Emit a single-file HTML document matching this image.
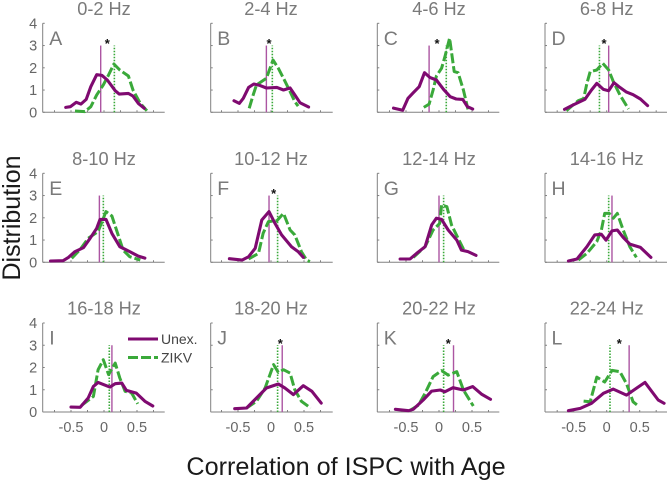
<!DOCTYPE html>
<html lang="en">
<head>
<meta charset="utf-8">
<title>Correlation of ISPC with Age</title>
<style>
html,body{margin:0;padding:0;background:#fff;width:669px;height:483px;overflow:hidden}
svg{display:block;font-family:"Liberation Sans",Arial,sans-serif;filter:blur(0.35px)}
</style>
</head>
<body>
<svg id="chart" xmlns="http://www.w3.org/2000/svg" width="669" height="483" viewBox="0 0 669 483">
  <text transform="translate(20,218) rotate(-90)" text-anchor="middle" font-size="25" fill="#1a1a1a">Distribution</text>
  <text x="346" y="475" text-anchor="middle" font-size="25.2" fill="#1a1a1a">Correlation of ISPC with Age</text>
</svg>
<script>
const bandLabels = ['0-2 Hz','2-4 Hz','4-6 Hz','6-8 Hz','8-10 Hz','10-12 Hz','12-14 Hz','14-16 Hz','16-18 Hz','18-20 Hz','20-22 Hz','22-24 Hz'];
const panelLetters = ['A','B','C','D','E','F','G','H','I','J','K','L'];
const yTickLabels = [0,1,2,3,4];
const xTickValues = [-0.75,-0.5,-0.25,0,0.25,0.5,0.75];
const xTickLabels = ['-0.5','0','0.5'];
const xLabelValues = [-0.5,0,0.5];

const unexX = [
 [-.58,-.51,-.42,-.35,-.27,-.20,-.11,-.03,.05,.17,.23,.37,.44,.52,.61],
 [-.56,-.48,-.42,-.34,-.26,-.17,-.07,.09,.19,.29,.36,.44,.57],
 [-.69,-.55,-.47,-.39,-.30,-.22,-.14,-.04,.07,.17,.26,.36,.43,.51],
 [-.64,-.51,-.33,-.23,-.15,-.05,.03,.11,.20,.30,.40,.51,.62],
 [-.81,-.62,-.54,-.44,-.31,-.21,-.11,-.06,.03,.12,.24,.39,.52,.62],
 [-.63,-.44,-.34,-.24,-.14,-.03,.06,.16,.31,.41,.49],
 [-.59,-.44,-.34,-.21,-.11,-.04,.04,.14,.27,.34,.44,.56],
 [-.58,-.45,-.30,-.18,-.08,-.01,.08,.16,.25,.35,.51,.67],
 [-.50,-.36,-.24,-.16,-.09,.09,.17,.27,.34,.49,.62,.74],
 [-.55,-.37,-.22,-.07,.11,.21,.34,.49,.62,.76],
 [-.66,-.46,-.39,-.24,-.11,.02,.09,.21,.37,.51,.65,.78],
 [-.58,-.40,-.23,-.05,.10,.30,.58,.78,.87]
];
const unexY = [
 [.22,.25,.45,.37,.58,1.15,1.69,1.66,1.45,.97,.82,.85,.73,.40,.18],
 [.52,.40,.63,1.12,1.27,1.21,1.09,1.12,1.0,1.09,.78,.43,.24],
 [.19,.09,.63,.88,1.15,1.78,1.57,1.45,1.03,.70,.60,.58,.25,.15],
 [.13,.33,.58,1.0,1.30,1.03,.97,1.33,1.12,.91,.79,.60,.30],
 [.06,.07,.22,.48,.66,1.08,1.53,1.93,1.93,1.30,.70,.48,.28,.19],
 [.16,.10,.25,.63,1.90,2.28,1.75,1.23,.70,.48,.22],
 [.15,.15,.40,.70,1.68,1.98,1.93,1.45,1.0,.55,.48,.31],
 [.06,.15,.70,1.23,1.26,1.0,1.41,1.45,1.12,.82,.67,.22],
 [.22,.21,.63,1.15,1.33,1.12,1.27,1.30,.97,.85,.48,.27],
 [.15,.18,.63,1.08,1.26,1.08,.78,1.18,.93,.40],
 [.12,.06,.12,.54,.94,.99,.91,1.09,.99,1.14,.79,.57],
 [.06,.16,.39,.84,1.03,.76,1.33,.54,.39]
];
const zikvX = [
 [-.44,-.29,-.20,-.11,-.01,.07,.15,.24,.37,.44,.55,.65],
 [-.33,-.27,-.22,-.07,.03,.11,.19,.29,.36,.41],
 [-.23,-.15,-.09,-.04,.04,.09,.16,.23,.29,.37,.44],
 [-.61,-.53,-.43,-.35,-.30,-.25,-.15,-.06,.03,.10,.20,.33],
 [-.49,-.36,-.24,-.09,.03,.12,.19,.29,.39,.55],
 [-.34,-.19,-.12,-.04,.09,.19,.29,.36,.46,.54,.59],
 [-.39,-.21,-.09,.01,.04,.12,.19,.29,.39],
 [-.43,-.30,-.15,-.08,-.03,.04,.10,.16,.25,.35,.45],
 [-.34,-.16,-.09,-.01,.07,.17,.24,.32,.42,.51],
 [-.37,-.22,-.09,.04,.11,.19,.29,.36,.46,.60],
 [-.44,-.31,-.21,-.09,.04,.14,.27,.37,.52],
 [-.35,-.25,-.15,-.03,.08,.20,.30,.40,.48]
];
const zikvY = [
 [.06,.03,.25,.78,1.23,1.68,2.17,1.90,1.63,1.0,.40,.07],
 [.18,.78,1.23,1.53,2.35,1.98,1.53,.93,.48,.28],
 [.22,.37,1.0,1.63,1.98,2.5,3.33,1.83,1.78,1.0,.13],
 [.07,.28,.52,.61,1.30,1.83,1.90,2.2,1.9,1.38,.78,.15],
 [.18,.58,1.08,1.38,2.28,2.08,1.45,.55,.25,.10],
 [.15,.40,1.3,1.83,1.87,2.2,1.45,1.23,.48,.10,.03],
 [.22,.70,1.45,1.75,2.58,2.5,1.68,1.08,.48],
 [.10,.40,.93,1.45,2.2,2.2,1.98,2.2,1.45,.70,.22],
 [.30,.70,1.90,2.35,1.68,2.2,1.53,.93,.85,.37],
 [.18,.48,1.08,2.13,1.78,1.9,1.75,1.0,.48,.18],
 [.07,.31,.84,1.59,1.86,1.66,1.81,.99,.27],
 [.49,.46,1.57,1.35,1.87,1.81,1.27,.46,.27]
];
const unexMeans = [-.05,-.07,-.15,.03,-.07,-.03,0,.08,.12,.17,.22,.34];
const zikvMeans = [.157,.02,.11,-.11,-.01,.10,.07,.03,.08,.10,.07,.05];
const meanLineTop = 3;
const starX = [.05,-.03,-.03,-.04,null,.04,null,null,null,.14,.14,.19];
const starLevel = 3.2;

const SVG_NS = 'http://www.w3.org/2000/svg';
const chart = document.getElementById('chart');
const columnLeft = [42.7,210.7,377.3,545];
const columnZero = [104,271,439,606.7];
const rowBase = [112.3,262.3,412];
const axisWidth = 122;
const pxPerX = 66;
const pxPerY = 22.25;
const TITLE_GRAY = '#7a7a7a';
const AXIS_GRAY = '#808080';
const TICK_GRAY = '#666666';
const PURPLE = '#7f0a70';
const GREEN = '#3aa93a';

function xScale(col, v){ return columnZero[col] + v * pxPerX; }
function yScale(row, v){ return rowBase[row] - v * pxPerY; }

function make(tag, parent){
  const el = document.createElementNS(SVG_NS, tag);
  parent.appendChild(el);
  return el;
}
function setLine(el, x1, y1, x2, y2, stroke, width){
  el.setAttribute('x1', x1);
  el.setAttribute('y1', y1);
  el.setAttribute('x2', x2);
  el.setAttribute('y2', y2);
  el.setAttribute('stroke', stroke);
  el.setAttribute('stroke-width', width);
}
function setText(el, x, y, str, size, fill, anchor){
  el.setAttribute('x', x);
  el.setAttribute('y', y);
  el.setAttribute('font-size', size);
  el.setAttribute('fill', fill);
  el.setAttribute('text-anchor', anchor);
  el.textContent = str;
}
function pointsFor(col, row, xs, ys){
  return xs.map(function(x, i){
    return xScale(col, x).toFixed(1) + ',' + yScale(row, ys[i]).toFixed(1);
  }).join(' ');
}

bandLabels.forEach(function(label, i){
  const col = i % 4;
  const row = Math.floor(i / 4);
  const left = columnLeft[col];
  const base = yScale(row, 0);

  const panel = make('g', chart);
  
  

  const title = make('text', panel);
  
  
  setText(title, columnZero[col], base - 97.3, label, 18.2, TITLE_GRAY, 'middle');

  const letter = make('text', panel);
  
  
  setText(letter, left + 6.5, base - 67.5, panelLetters[i], 19.5, TITLE_GRAY, 'start');

  const yAxis = make('line', panel);
  
  
  setLine(yAxis, left, base, left, yScale(row, 4), AXIS_GRAY, 1);

  const xAxis = make('line', panel);
  
  
  setLine(xAxis, left, base, left + axisWidth, base, AXIS_GRAY, 1);

  yTickLabels.forEach(function(v){
    const tick = make('line', panel);
    
    
    setLine(tick, left, yScale(row, v), left + 2, yScale(row, v), AXIS_GRAY, 1);
    if (col === 0) {
      const t = make('text', panel);
      
      
      setText(t, left - 5.5, yScale(row, v) + 5, String(v), 14.5, TICK_GRAY, 'end');
    }
  });

  xTickValues.forEach(function(v){
    const tick = make('line', panel);
    
    
    setLine(tick, xScale(col, v), base, xScale(col, v), base - 2, AXIS_GRAY, 1);
  });

  if (row === 2) {
    xLabelValues.forEach(function(v, k){
      const t = make('text', panel);
      
      
      setText(t, xScale(col, v), base + 20, xTickLabels[k], 14.5, TICK_GRAY, 'middle');
    });
  }

  const unexMean = make('line', panel);
  
  
  setLine(unexMean, xScale(col, unexMeans[i]), base, xScale(col, unexMeans[i]), yScale(row, meanLineTop), '#ac55a2', 1.4);

  const zikvMean = make('line', panel);
  
  
  setLine(zikvMean, xScale(col, zikvMeans[i]), base, xScale(col, zikvMeans[i]), yScale(row, meanLineTop), GREEN, 1.6);
  zikvMean.setAttribute('stroke-dasharray', '1.5 1.5');

  const zikv = make('polyline', panel);
  
  
  zikv.setAttribute('points', pointsFor(col, row, zikvX[i], zikvY[i]));
  zikv.setAttribute('fill', 'none');
  zikv.setAttribute('stroke', GREEN);
  zikv.setAttribute('stroke-width', '3');
  zikv.setAttribute('stroke-dasharray', '10 3');
  zikv.setAttribute('stroke-linejoin', 'round');

  const unex = make('polyline', panel);
  
  
  unex.setAttribute('points', pointsFor(col, row, unexX[i], unexY[i]));
  unex.setAttribute('fill', 'none');
  unex.setAttribute('stroke', PURPLE);
  unex.setAttribute('stroke-width', '3.1');
  unex.setAttribute('stroke-linejoin', 'round');
  unex.setAttribute('stroke-linecap', 'round');

  if (starX[i] !== null) {
    const star = make('text', panel);
    
    
    setText(star, xScale(col, starX[i]), yScale(row, starLevel) + 7, '*', 13, '#111', 'middle');
    star.setAttribute('font-weight', 'bold');
  }
});

const legend = make('g', chart);



const legendUnexLine = make('line', legend);


setLine(legendUnexLine, 128, 339, 158, 339, PURPLE, 3);

const legendUnexText = make('text', legend);


setText(legendUnexText, 161, 344, 'Unex.', 14, '#444', 'start');

const legendZikvLine = make('line', legend);


setLine(legendZikvLine, 128, 357.5, 158, 357.5, GREEN, 3);
legendZikvLine.setAttribute('stroke-dasharray', '10 3');

const legendZikvText = make('text', legend);


setText(legendZikvText, 161, 362.5, 'ZIKV', 14, '#444', 'start');
</script>
</body>
</html>
